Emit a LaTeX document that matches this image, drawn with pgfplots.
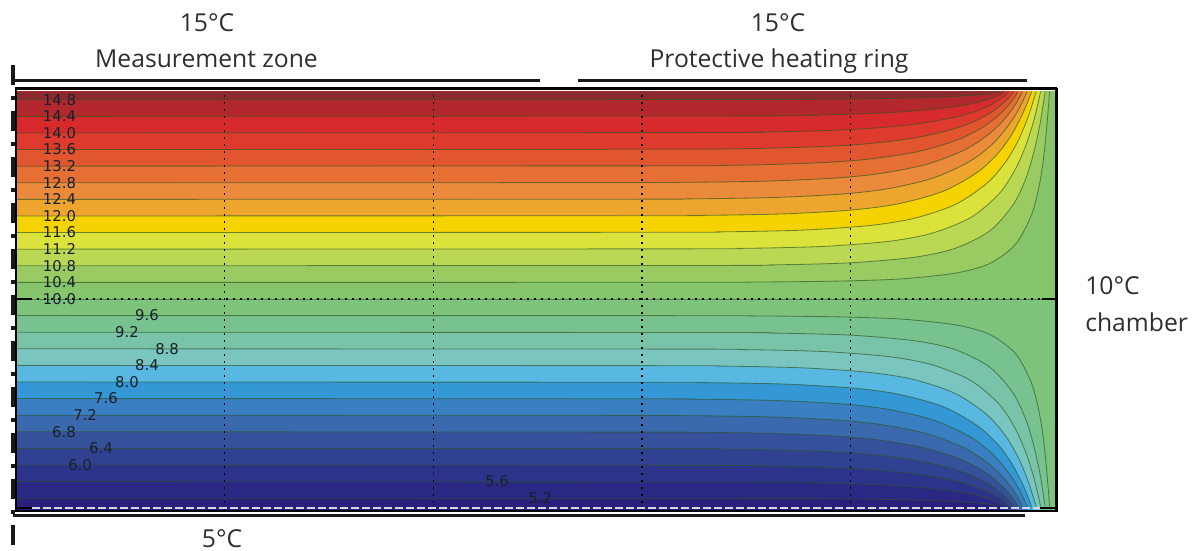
\documentclass[border=0pt]{standalone}
\usepackage{pgfplots}
\pgfplotsset{compat=1.18}
\usepackage{pgfplotstable}
\usepackage{fontspec}
\setmainfont{Open Sans}
\newfontfamily\dvs{DejaVu Sans}

\definecolor{b148}{HTML}{8B2A2E}
\definecolor{b144}{HTML}{B2282C}
\definecolor{b140}{HTML}{D72A2D}
\definecolor{b136}{HTML}{DE3A2E}
\definecolor{b132}{HTML}{E1552F}
\definecolor{b128}{HTML}{E67034}
\definecolor{b124}{HTML}{EA8A3A}
\definecolor{b120}{HTML}{EEA52D}
\definecolor{b116}{HTML}{F5D300}
\definecolor{b112}{HTML}{DCE23C}
\definecolor{b108}{HTML}{BBD855}
\definecolor{b104}{HTML}{99CB62}
\definecolor{b100}{HTML}{86C56C}
\definecolor{b096}{HTML}{7DC37C}
\definecolor{b092}{HTML}{78C290}
\definecolor{b088}{HTML}{79C3A8}
\definecolor{b084}{HTML}{7BC5C0}
\definecolor{b080}{HTML}{58B8E2}
\definecolor{b076}{HTML}{3497D6}
\definecolor{b072}{HTML}{3A7FC1}
\definecolor{b068}{HTML}{3B69AD}
\definecolor{b064}{HTML}{36519C}
\definecolor{b060}{HTML}{304192}
\definecolor{b056}{HTML}{2C338A}
\definecolor{b052}{HTML}{2A2884}
\definecolor{b050}{HTML}{2A1F7A}
\definecolor{clc}{HTML}{2D5523}
\definecolor{lblc}{HTML}{19202D}
\definecolor{txt}{HTML}{2E2E2E}

\tikzset{
  fl/.style={draw=none, smooth, tension=0.5},
  cl/.style={draw=clc, line width=0.5pt, opacity=0.65, smooth, tension=0.5},
  gd/.style={black, line width=0.9pt, dash pattern=on 0.9pt off 3.3pt},
  lbl/.style={font=\dvs\fontsize{8.9pt}{10pt}\selectfont, text=lblc, inner sep=0pt},
}

% upper contours (10.4 ... 14.8)
\pgfplotstableread{
x y
0 10.4
3.142 10.402
3.580 10.409
3.868 10.423
4.081 10.446
4.286 10.492
4.530 10.63
4.689 10.86
4.811 11.32
4.886 12.01
4.923 12.70
4.945 13.39
4.959 14.08
4.967 14.54
4.974 15
}\ua
\pgfplotstableread{
x y
0 10.8
3.343 10.808
3.632 10.821
3.849 10.842
4.061 10.884
4.332 11.01
4.521 11.22
4.687 11.64
4.799 12.27
4.860 12.90
4.898 13.53
4.926 14.16
4.940 14.58
4.953 15
}\ub
\pgfplotstableread{
x y
0 11.2
3.199 11.208
3.489 11.219
3.708 11.238
3.925 11.276
4.205 11.39
4.407 11.58
4.595 11.96
4.731 12.53
4.807 13.10
4.858 13.67
4.895 14.24
4.914 14.62
4.931 15
}\uc
\pgfplotstableread{
x y
0 11.6
3.097 11.607
3.388 11.617
3.607 11.634
3.826 11.668
4.111 11.77
4.322 11.94
4.523 12.28
4.674 12.79
4.763 13.30
4.823 13.81
4.866 14.32
4.889 14.66
4.910 15
}\ud
\pgfplotstableread{
x y
0 12
3.019 12.006
3.310 12.015
3.531 12.03
3.750 12.06
4.039 12.15
4.255 12.30
4.466 12.60
4.627 13.05
4.725 13.50
4.791 13.95
4.839 14.40
4.865 14.70
4.888 15
}\ue
\pgfplotstableread{
x y
0 12.4
2.958 12.405
3.250 12.413
3.470 12.426
3.691 12.452
3.982 12.53
4.202 12.66
4.419 12.92
4.589 13.31
4.693 13.70
4.763 14.09
4.816 14.48
4.843 14.74
4.867 15
}\uf
\pgfplotstableread{
x y
0 12.8
2.910 12.804
3.202 12.811
3.423 12.822
3.644 12.844
3.937 12.91
4.158 13.02
4.381 13.24
4.557 13.57
4.664 13.90
4.739 14.23
4.793 14.56
4.821 14.78
4.845 15
}\ug
\pgfplotstableread{
x y
0 13.2
3.164 13.209
3.386 13.218
3.607 13.236
3.901 13.29
4.125 13.38
4.350 13.56
4.530 13.83
4.641 14.10
4.717 14.37
4.772 14.64
4.800 14.82
4.823 15
}\uh
\pgfplotstableread{
x y
0 13.6
3.136 13.607
3.357 13.614
3.579 13.628
3.874 13.67
4.099 13.74
4.326 13.88
4.510 14.09
4.622 14.30
4.698 14.51
4.752 14.72
4.780 14.86
4.802 15
}\ui
\pgfplotstableread{
x y
0 14
3.336 14.01
3.558 14.02
3.853 14.05
4.080 14.10
4.309 14.20
4.493 14.35
4.606 14.50
4.682 14.65
4.734 14.80
4.760 14.90
4.780 15
}\uj
\pgfplotstableread{
x y
0 14.4
3.545 14.412
3.840 14.43
4.068 14.46
4.297 14.52
4.481 14.61
4.594 14.70
4.668 14.79
4.718 14.88
4.742 14.94
4.759 15
}\uk
\pgfplotstableread{
x y
0 14.8
3.537 14.804
3.834 14.81
4.061 14.82
4.290 14.84
4.475 14.87
4.585 14.90
4.657 14.93
4.703 14.96
4.723 14.98
4.737 15
}\ul

% lower contours (9.6 ... 5.2)
\pgfplotstableread{
x y
0 9.6
3.142 9.598
3.580 9.591
3.868 9.577
4.081 9.554
4.286 9.508
4.530 9.37
4.689 9.14
4.811 8.68
4.886 7.99
4.923 7.30
4.945 6.61
4.959 5.92
4.967 5.46
4.974 5
}\la
\pgfplotstableread{
x y
0 9.2
3.343 9.192
3.632 9.179
3.849 9.158
4.061 9.116
4.332 8.99
4.521 8.78
4.687 8.36
4.799 7.73
4.860 7.10
4.898 6.47
4.926 5.84
4.940 5.42
4.953 5
}\lb
\pgfplotstableread{
x y
0 8.8
3.199 8.792
3.489 8.781
3.708 8.762
3.925 8.724
4.205 8.61
4.407 8.42
4.595 8.04
4.731 7.47
4.807 6.90
4.858 6.33
4.895 5.76
4.914 5.38
4.931 5
}\lc
\pgfplotstableread{
x y
0 8.4
3.097 8.393
3.388 8.383
3.607 8.366
3.826 8.332
4.111 8.23
4.322 8.06
4.523 7.72
4.674 7.21
4.763 6.70
4.823 6.19
4.866 5.68
4.889 5.34
4.910 5
}\ld
\pgfplotstableread{
x y
0 8
3.019 7.994
3.310 7.985
3.531 7.97
3.750 7.94
4.039 7.85
4.255 7.70
4.466 7.40
4.627 6.95
4.725 6.50
4.791 6.05
4.839 5.60
4.865 5.30
4.888 5
}\le
\pgfplotstableread{
x y
0 7.6
2.958 7.595
3.250 7.587
3.470 7.574
3.691 7.548
3.982 7.47
4.202 7.34
4.419 7.08
4.589 6.69
4.693 6.30
4.763 5.91
4.816 5.52
4.843 5.26
4.867 5
}\lf
\pgfplotstableread{
x y
0 7.2
2.910 7.196
3.202 7.189
3.423 7.178
3.644 7.156
3.937 7.09
4.158 6.98
4.381 6.76
4.557 6.43
4.664 6.10
4.739 5.77
4.793 5.44
4.821 5.22
4.845 5
}\lg
\pgfplotstableread{
x y
0 6.8
3.164 6.791
3.386 6.782
3.607 6.764
3.901 6.71
4.125 6.62
4.350 6.44
4.530 6.17
4.641 5.90
4.717 5.63
4.772 5.36
4.800 5.18
4.823 5
}\lh
\pgfplotstableread{
x y
0 6.4
3.136 6.393
3.357 6.386
3.579 6.372
3.874 6.33
4.099 6.26
4.326 6.12
4.510 5.91
4.622 5.70
4.698 5.49
4.752 5.28
4.780 5.14
4.802 5
}\li
\pgfplotstableread{
x y
0 6
3.336 5.99
3.558 5.98
3.853 5.95
4.080 5.90
4.309 5.80
4.493 5.65
4.606 5.50
4.682 5.35
4.734 5.20
4.760 5.10
4.780 5
}\lj
\pgfplotstableread{
x y
0 5.6
3.545 5.588
3.840 5.57
4.068 5.54
4.297 5.48
4.481 5.39
4.594 5.30
4.668 5.21
4.718 5.12
4.742 5.06
4.759 5
}\lk
\pgfplotstableread{
x y
0 5.2
3.537 5.196
3.834 5.19
4.061 5.18
4.290 5.16
4.475 5.13
4.585 5.10
4.657 5.07
4.703 5.04
4.723 5.02
4.737 5
}\ll

\begin{document}
\begin{tikzpicture}
\useasboundingbox (0,0) rectangle (717pt,330.6pt);
\begin{axis}[
  at={(9.6pt,24.72pt)}, anchor=south west,
  scale only axis, width=623.4pt, height=250.98pt,
  xmin=0.02, xmax=5, ymin=4.92, ymax=15,
  axis line style={draw=none}, ticks=none,
]
% base fills
\addplot[fill=b100, draw=none] coordinates {(0,10) (5,10) (5,15) (0,15)} -- cycle;
\addplot[fill=b096, draw=none] coordinates {(0,4.9) (5,4.9) (5,10) (0,10)} -- cycle;
% upper bands
\addplot[fill=b104, fl] table {\ua} -- (axis cs:0,15) -- cycle;
\addplot[fill=b108, fl] table {\ub} -- (axis cs:0,15) -- cycle;
\addplot[fill=b112, fl] table {\uc} -- (axis cs:0,15) -- cycle;
\addplot[fill=b116, fl] table {\ud} -- (axis cs:0,15) -- cycle;
\addplot[fill=b120, fl] table {\ue} -- (axis cs:0,15) -- cycle;
\addplot[fill=b124, fl] table {\uf} -- (axis cs:0,15) -- cycle;
\addplot[fill=b128, fl] table {\ug} -- (axis cs:0,15) -- cycle;
\addplot[fill=b132, fl] table {\uh} -- (axis cs:0,15) -- cycle;
\addplot[fill=b136, fl] table {\ui} -- (axis cs:0,15) -- cycle;
\addplot[fill=b140, fl] table {\uj} -- (axis cs:0,15) -- cycle;
\addplot[fill=b144, fl] table {\uk} -- (axis cs:0,15) -- cycle;
\addplot[fill=b148, fl] table {\ul} -- (axis cs:0,15) -- cycle;
% lower bands
\addplot[fill=b092, fl] table {\la} -- (axis cs:4.974,4.9) -- (axis cs:0,4.9) -- cycle;
\addplot[fill=b088, fl] table {\lb} -- (axis cs:4.953,4.9) -- (axis cs:0,4.9) -- cycle;
\addplot[fill=b084, fl] table {\lc} -- (axis cs:4.931,4.9) -- (axis cs:0,4.9) -- cycle;
\addplot[fill=b080, fl] table {\ld} -- (axis cs:4.910,4.9) -- (axis cs:0,4.9) -- cycle;
\addplot[fill=b076, fl] table {\le} -- (axis cs:4.888,4.9) -- (axis cs:0,4.9) -- cycle;
\addplot[fill=b072, fl] table {\lf} -- (axis cs:4.867,4.9) -- (axis cs:0,4.9) -- cycle;
\addplot[fill=b068, fl] table {\lg} -- (axis cs:4.845,4.9) -- (axis cs:0,4.9) -- cycle;
\addplot[fill=b064, fl] table {\lh} -- (axis cs:4.823,4.9) -- (axis cs:0,4.9) -- cycle;
\addplot[fill=b060, fl] table {\li} -- (axis cs:4.802,4.9) -- (axis cs:0,4.9) -- cycle;
\addplot[fill=b056, fl] table {\lj} -- (axis cs:4.780,4.9) -- (axis cs:0,4.9) -- cycle;
\addplot[fill=b052, fl] table {\lk} -- (axis cs:4.759,4.9) -- (axis cs:0,4.9) -- cycle;
\addplot[fill=b050, fl] table {\ll} -- (axis cs:4.737,4.9) -- (axis cs:0,4.9) -- cycle;
% contour lines
\addplot[cl] table {\ua}; \addplot[cl] table {\ub}; \addplot[cl] table {\uc};
\addplot[cl] table {\ud}; \addplot[cl] table {\ue}; \addplot[cl] table {\uf};
\addplot[cl] table {\ug}; \addplot[cl] table {\uh}; \addplot[cl] table {\ui};
\addplot[cl] table {\uj}; \addplot[cl] table {\uk}; \addplot[cl] table {\ul};
\addplot[cl] table {\la}; \addplot[cl] table {\lb}; \addplot[cl] table {\lc};
\addplot[cl] table {\ld}; \addplot[cl] table {\le}; \addplot[cl] table {\lf};
\addplot[cl] table {\lg}; \addplot[cl] table {\lh}; \addplot[cl] table {\li};
\addplot[cl] table {\lj}; \addplot[cl] table {\lk}; \addplot[cl] table {\ll};
\addplot[cl] coordinates {(0,10) (5,10)};
% dotted grid
\draw[gd] (axis cs:1.02,4.92) -- (axis cs:1.02,15);
\draw[gd] (axis cs:2.02,4.92) -- (axis cs:2.02,15);
\draw[gd] (axis cs:3.02,4.92) -- (axis cs:3.02,15);
\draw[gd] (axis cs:4.02,4.92) -- (axis cs:4.02,15);
\draw[gd] (axis cs:0.02,10) -- (axis cs:5,10);
\draw[black, line width=0.9pt] (axis cs:0.02,10) -- (axis cs:0.097,10);
\draw[black, line width=0.9pt] (axis cs:4.938,10) -- (axis cs:5,10);
% contour labels
\node[lbl] at (axis cs:0.2285,14.8) {14.8};
\node[lbl] at (axis cs:0.2285,14.4) {14.4};
\node[lbl] at (axis cs:0.2285,14.0) {14.0};
\node[lbl] at (axis cs:0.2285,13.6) {13.6};
\node[lbl] at (axis cs:0.2285,13.2) {13.2};
\node[lbl] at (axis cs:0.2285,12.8) {12.8};
\node[lbl] at (axis cs:0.2285,12.4) {12.4};
\node[lbl] at (axis cs:0.2285,12.0) {12.0};
\node[lbl] at (axis cs:0.2285,11.6) {11.6};
\node[lbl] at (axis cs:0.2285,11.2) {11.2};
\node[lbl] at (axis cs:0.2285,10.8) {10.8};
\node[lbl] at (axis cs:0.2285,10.4) {10.4};
\node[lbl] at (axis cs:0.2285,10.0) {10.0};
\node[lbl] at (axis cs:0.648,9.6) {9.6};
\node[lbl] at (axis cs:0.552,9.2) {9.2};
\node[lbl] at (axis cs:0.744,8.8) {8.8};
\node[lbl] at (axis cs:0.648,8.4) {8.4};
\node[lbl] at (axis cs:0.552,8.0) {8.0};
\node[lbl] at (axis cs:0.451,7.6) {7.6};
\node[lbl] at (axis cs:0.351,7.2) {7.2};
\node[lbl] at (axis cs:0.250,6.8) {6.8};
\node[lbl] at (axis cs:0.427,6.4) {6.4};
\node[lbl] at (axis cs:0.327,6.0) {6.0};
\node[lbl] at (axis cs:2.326,5.6) {5.6};
\node[lbl] at (axis cs:2.532,5.2) {5.2};
\end{axis}
\begin{scope}[x=0.6pt, y=0.6pt]
% frame
\draw[black, line width=1.5pt] (15,462.5) -- (1057,462.5);
\draw[black, line width=1.8pt] (1056,463) -- (1056,39);
\draw[black, line width=1.6pt] (15,40) -- (1057,40);
\draw[black, line width=0.9pt] (16,463) -- (16,39);
% bottom white dashes with black end ticks
\draw[black, line width=1.1pt] (16,43.4) -- (32,43.4);
\draw[black, line width=1.1pt] (1040,43.4) -- (1056,43.4);
\draw[color={rgb,255:red,214;green,214;blue,224}, line width=1.1pt, dash pattern=on 4.8pt off 1.8pt] (32,43.4) -- (1040,43.4);
% zone lines
\draw[black!90, line width=1.5pt] (15,470.5) -- (540,470.5);
\draw[black!90, line width=1.5pt] (578,470.5) -- (1027,470.5);
% bottom line
\draw[black!90, line width=1.5pt] (13,35.5) -- (1025,35.5);
% left dash-dot line
\draw[black!90, line width=2.4pt, dash pattern=on 12pt off 6.6pt on 2.4pt off 6.6pt] (13,486) -- (13,6);
% texts
\begin{scope}[every node/.style={text=txt, inner sep=0pt, font=\fontsize{14.8pt}{17pt}\selectfont}]
\node[anchor=base] at (207,519) {15°C};
\node[anchor=base] at (206.5,483) {Measurement zone};
\node[anchor=base] at (778,519) {15°C};
\node[anchor=base] at (779,483) {Protective heating ring};
\node[anchor=base west] at (1085,256) {10°C};
\node[anchor=base west] at (1085,219) {chamber};
\node[anchor=base] at (222,3.5) {5°C};
\end{scope}
\end{scope}
\end{tikzpicture}
\end{document}
